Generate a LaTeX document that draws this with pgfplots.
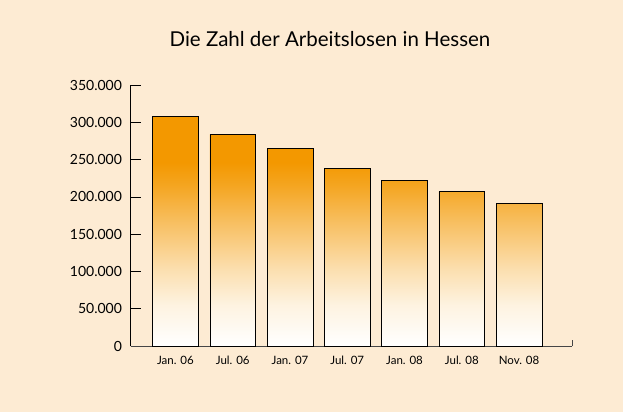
\documentclass[border=0pt]{standalone}
\usepackage{pgfplots}
\pgfplotsset{compat=1.18}
\usepackage{fontspec}
\setmainfont{Lato}
\definecolor{bg}{RGB}{253,235,211}
\definecolor{org}{RGB}{243,152,0}
\definecolor{axgray}{RGB}{70,70,70}
\pgfdeclareverticalshading{barshade}{100bp}{color(0bp)=(white); color(25bp)=(white); color(34bp)=(org!12!white); color(42bp)=(org!32!white); color(52bp)=(org!62!white); color(60bp)=(org!87!white); color(65bp)=(org); color(100bp)=(org)}
\begin{document}
\begin{tikzpicture}[x=1pt,y=1pt]
\fill[bg] (0,0) rectangle (623,412);
\useasboundingbox (0,0) rectangle (623,412);
\node[font=\fontsize{20.5}{24}\selectfont, text=black, anchor=base] at (330,365.5) {Die Zahl der Arbeitslosen in Hessen};
\begin{axis}[
  at={(130.5pt,66pt)}, anchor=south west,
  scale only axis, width=441.5pt, height=261pt,
  xmin=-0.785, xmax=6.925, ymin=0, ymax=350000,
  axis x line*=bottom, axis y line*=left,
  x axis line style={axgray, -}, y axis line style={black,-},
  xtick={0,...,6},
  xticklabels={Jan. 06, Jul. 06, Jan. 07, Jul. 07, Jan. 08, Jul. 08, Nov. 08},
  xtick style={draw=none},
  ytick={0,50000,...,350000},
  ytick style={black, line width=0.6pt},
  major tick length=10pt, tick align=inside,
  scaled y ticks=false,
  yticklabel style={/pgf/number format/fixed, /pgf/number format/1000 sep={.}},
  yticklabel style={font=\fontsize{14}{16}\selectfont, xshift=-5pt},
  xticklabel style={font=\fontsize{11.5}{13}\selectfont, yshift=-6pt, text height=8.5pt, text depth=2pt},
  /pgf/number format/assume math mode=true,
  clip=false,
]
\addplot[ybar, bar width=0.8, draw=black, line width=0.6pt, shading=barshade] coordinates {
  (0,307500) (1,283900) (2,264600) (3,237800) (4,222600) (5,206900) (6,190800)
};
\draw[axgray] (rel axis cs:1,0) -- ++(0pt,6pt);
\end{axis}
\end{tikzpicture}
\end{document}
